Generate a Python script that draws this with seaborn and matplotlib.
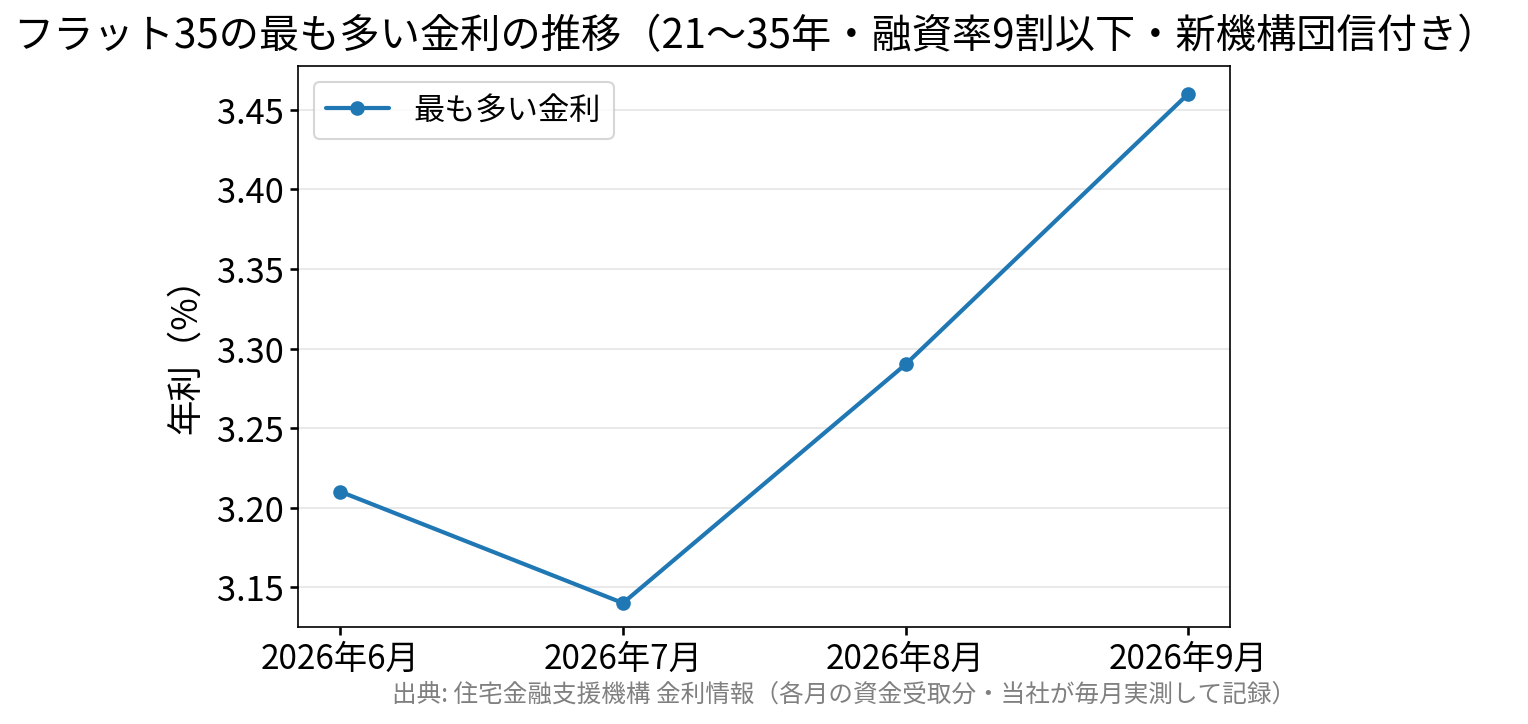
import matplotlib
matplotlib.use("Agg")
import matplotlib.pyplot as plt
import seaborn as sns
import pandas as pd

sns.set_theme(style="white")
plt.rcParams["font.family"] = ["Noto Sans CJK JP", "DejaVu Sans"]
plt.rcParams["text.color"] = "black"
plt.rcParams["axes.labelcolor"] = "black"
plt.rcParams["xtick.color"] = "black"
plt.rcParams["ytick.color"] = "black"

# data
months = ["2026年6月", "2026年7月", "2026年8月", "2026年9月"]
rates = [3.21, 3.14, 3.29, 3.46]
yticks = [3.15, 3.20, 3.25, 3.30, 3.35, 3.40, 3.45]

df = pd.DataFrame({"month": months, "rate": rates, "x": range(len(months))})

fig = plt.figure(figsize=(10.19, 4.83), dpi=150)
ax = fig.add_axes([0.195, 0.134, 0.61, 0.774])

sns.lineplot(data=df, x="x", y="rate", ax=ax, color="#1f77b4", lw=2,
             marker="o", markersize=7, markeredgewidth=0, label="最も多い金利")

ax.set_xticks(range(len(months)))
ax.set_xticklabels(months, fontsize=16)
ax.set_yticks(yticks)
ax.set_yticklabels([f"{v:.2f}" for v in yticks], fontsize=16.5)
ax.set_xlim(-0.15, 3.15)
ax.set_ylim(3.125, 3.4775)
ax.set_xlabel("")
ax.set_ylabel("年利（%）", fontsize=17, labelpad=6)
ax.grid(axis="y", color="#e5e5e5", lw=0.8)
ax.tick_params(axis="both", length=4, color="black", left=True, bottom=True, pad=3)
for s in ax.spines.values():
    s.set_edgecolor("black")
    s.set_linewidth(0.8)

ax.legend(loc="upper left", fontsize=15, frameon=True, edgecolor="#cccccc",
          borderaxespad=0.5)

fig.suptitle("フラット35の最も多い金利の推移（21〜35年・融資率9割以下・新機構団信付き）",
             fontsize=19.3, x=0.494, y=0.978)
fig.text(0.552, 0.041, "出典: 住宅金融支援機構 金利情報（各月の資金受取分・当社が毎月実測して記録）",
         fontsize=11.8, color="gray", ha="center", va="center")

plt.savefig("out.png", dpi=150)
